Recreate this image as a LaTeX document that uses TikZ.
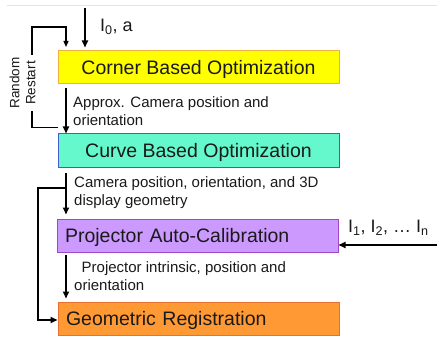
\documentclass[tikz,border=0pt]{standalone}
\usepackage{fontspec}
\setmainfont{Liberation Sans}
\usetikzlibrary{arrows.meta,calc}
\definecolor{txt}{HTML}{1A1A1A}
\definecolor{yfill}{HTML}{FFFF00}
\definecolor{ydraw}{HTML}{F0B040}
\definecolor{cfill}{HTML}{64F8CC}
\definecolor{cdraw}{HTML}{4060D0}
\definecolor{pfill}{HTML}{CC99FF}
\definecolor{pdraw}{HTML}{A048C8}
\definecolor{gfill}{HTML}{FF9933}
\definecolor{gdraw}{HTML}{E87030}
\definecolor{topline}{HTML}{E4E4E4}
\begin{document}
\begin{tikzpicture}[x=1pt,y=-1pt,
  box/.style={draw, line width=1pt, minimum width=281pt, minimum height=33pt,
    inner sep=0pt, font=\fontsize{19.5}{22}\selectfont, text height=14pt,
    text depth=0pt, text=txt},
  leftbox/.style={box, align=left, text width=265pt, inner xsep=8pt},
  lbl/.style={font=\fontsize{15}{18}\selectfont, align=left, anchor=base west,
    inner sep=0pt, text=txt},
  arr/.style={line width=1.6pt, -{Triangle[length=7pt,width=6pt]}},
  thinarr/.style={line width=1.2pt, -{Triangle[length=6pt,width=5pt]}},
]
\useasboundingbox (0,0) rectangle (437,337);
\draw[topline, line width=1pt] (7,5.5) coordinate (tl) -- (437,5.5) coordinate (tr);

\node[box, fill=yfill, draw=ydraw] (corner) at (198.5,67.5) {Corner Based Optimization};
\node[box, fill=cfill, draw=cdraw] (curve) at (198.5,150.5) {Curve Based Optimization};
\node[leftbox, fill=pfill, draw=pdraw] (proj) at (197.5,235.5) {Projector Auto-Calibration};
\node[leftbox, fill=gfill, draw=gdraw] (geo) at (198.5,318.5) {Geometric Registration};

% input I0, a
\coordinate (in0) at (85,8);
\draw[arr, shorten >=3pt] (in0) -- (in0 |- corner.north);
\node[lbl, font=\fontsize{18}{20}\selectfont] (i0) at (100,32) {I\textsubscript{0}, a};

% random restart loop
\coordinate (rs) at ($(curve.north west)+(0,-6)$);
\coordinate (rtop) at (32,27);
\coordinate (rend) at (66,51);
\draw[thinarr, shorten >=4pt] (rs) -- (rtop |- rs) -- (rtop) -| (rend);
\node[font=\fontsize{13.5}{16}\selectfont, align=center, rotate=90, text=txt,
  fill=white, inner xsep=2pt, inner ysep=0pt] (rr) at (22.5,83) {Random\\Restart};

% corner -> curve
\coordinate (a1) at (66,84);
\draw[arr, shorten <=4pt] (a1) -- (a1 |- curve.north);
\node[lbl] (l1) at (73,125) {Approx. Camera position and\\orientation};

% curve -> projector
\coordinate (a2) at (66,167);
\draw[arr, shorten <=6pt, shorten >=4pt] (a2) -- (a2 |- proj.north);
\node[lbl] (l2) at (74,205.5) {Camera position, orientation, and 3D\\display geometry};

% bypass curve -> geometric
\coordinate (bp) at (66,188);
\coordinate (bl) at (38,320);
\draw[arr] (bp) -- (bl |- bp) -- (bl) -- (geo.west |- bl);

% projector -> geometric
\coordinate (a3) at (66,252);
\draw[arr, shorten <=3pt, shorten >=3pt] (a3) -- (a3 |- geo.north);
\node[lbl] (l3) at (74,290) {\hspace*{7.5pt}Projector intrinsic, position and\\orientation};

% I1..In input
\coordinate (inn) at (437,245);
\draw[arr] (inn) -- (proj.east |- inn);
\node[lbl, font=\fontsize{18}{20}\selectfont] (in) at (348,232.5) {I\textsubscript{1}, I\textsubscript{2}, … I\textsubscript{n}};
\end{tikzpicture}
\end{document}
